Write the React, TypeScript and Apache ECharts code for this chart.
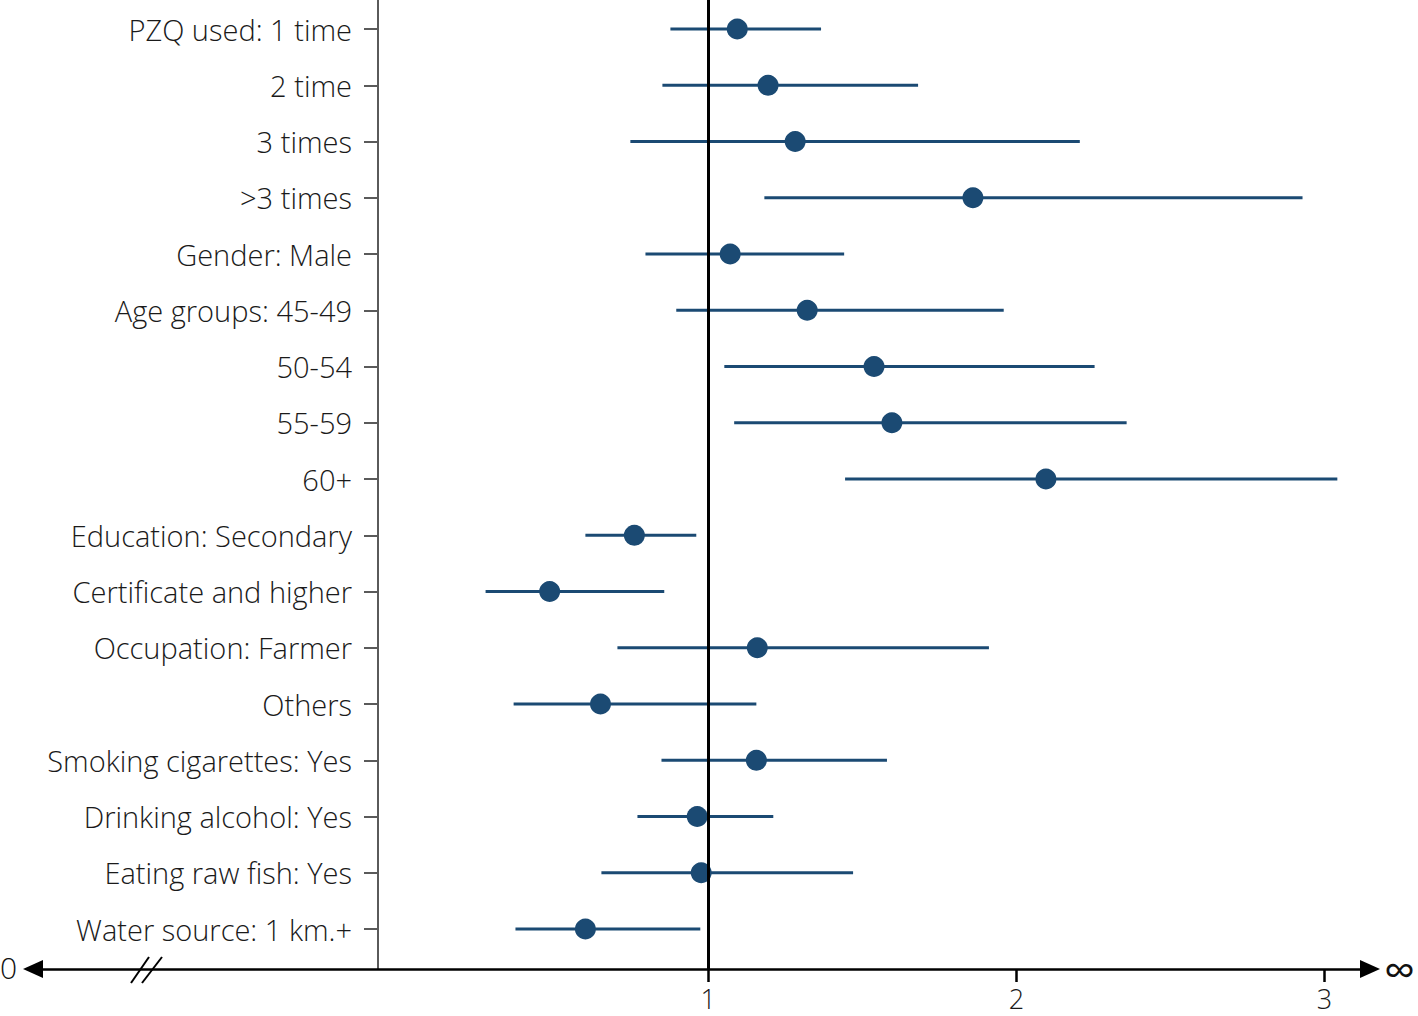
import React, { useEffect, useRef } from "react";
import * as echarts from "echarts";

const categories = [
  "PZQ used: 1 time",
  "2 time",
  "3 times",
  ">3 times",
  "Gender: Male",
  "Age groups: 45-49",
  "50-54",
  "55-59",
  "60+",
  "Education: Secondary",
  "Certificate and higher",
  "Occupation: Farmer",
  "Others",
  "Smoking cigarettes: Yes",
  "Drinking alcohol: Yes",
  "Eating raw fish: Yes",
  "Water source: 1 km.+",
];

const oddsRatio = [1.094, 1.194, 1.282, 1.859, 1.071, 1.321, 1.538, 1.596, 2.096, 0.76, 0.485, 1.159, 0.65, 1.156, 0.964, 0.977, 0.601];
const lowerCI = [0.877, 0.851, 0.747, 1.182, 0.796, 0.896, 1.052, 1.084, 1.444, 0.601, 0.277, 0.705, 0.368, 0.848, 0.77, 0.653, 0.374];
const upperCI = [1.366, 1.681, 2.206, 2.929, 1.441, 1.959, 2.254, 2.358, 3.042, 0.961, 0.857, 1.911, 1.156, 1.58, 1.211, 1.47, 0.974];
const xTickValues = [1, 2, 3];
const referenceValue = 1;

const FONT = "'Open Sans', 'Noto Sans', sans-serif";
const NAVY = "#1b4a73";

export default function App() {
  const ref = useRef<HTMLDivElement>(null);

  useEffect(() => {
    if (!ref.current) return;
    const chart = echarts.init(ref.current, null, { renderer: "svg" });
    const rows = categories.map((_, i) => i);

    const option = {
      animation: false,
      backgroundColor: "#ffffff",
      grid: { left: 33, right: 46, top: 0, bottom: 47, containLabel: false },
      xAxis: {
        type: "value",
        min: -1.1922,
        max: 3.1481,
        splitLine: { show: false },
        axisLine: {
          show: true,
          onZero: false,
          symbol: ["triangle", "triangle"],
          symbolSize: [18, 20],
          lineStyle: { color: "#000", width: 2.5 },
        },
        axisTick: { show: true, customValues: xTickValues, length: 13, lineStyle: { color: "#000", width: 2.5 } },
        axisLabel: {
          show: true,
          customValues: xTickValues,
          margin: 16,
          fontFamily: FONT,
          fontSize: 27,
          color: "#1a1a1a",
          fontWeight: 300,
        },
        name: "∞",
        nameLocation: "end",
        nameGap: 14,
        nameTextStyle: { fontFamily: FONT, fontSize: 44, color: "#111", verticalAlign: "middle", padding: [0, 0, 6, 0] },
      },
      yAxis: {
        type: "value",
        inverse: true,
        min: -0.5156,
        max: 16.711,
        position: "left",
        offset: -345,
        splitLine: { show: false },
        axisLine: { show: true, onZero: false, lineStyle: { color: "#5a5a5a", width: 2 } },
        axisTick: { show: true, customValues: rows, length: 14, lineStyle: { color: "#5a5a5a", width: 2 } },
        axisLabel: {
          show: true,
          customValues: rows,
          margin: 26,
          fontFamily: FONT,
          fontSize: 29,
          color: "#1a1a1a",
          fontWeight: 300,
          formatter: (v: number) => categories[Math.round(v)] ?? "",
        },
      },
      graphic: [
        {
          type: "text",
          left: 0,
          top: 952,
          style: { text: "0", font: `300 30px ${FONT}`, fill: "#111" },
        },
        {
          type: "line",
          shape: { x1: 131, y1: 983, x2: 149, y2: 957 },
          style: { stroke: "#000", lineWidth: 2 },
        },
        {
          type: "line",
          shape: { x1: 142, y1: 983, x2: 162, y2: 957 },
          style: { stroke: "#000", lineWidth: 2 },
        },
      ],
      series: [
        {
          type: "custom",
          z: 2,
          data: rows.map((i) => [lowerCI[i], upperCI[i], i]),
          encode: { x: [0, 1], y: 2 },
          renderItem: (_params: any, api: any) => {
            const p1 = api.coord([api.value(0), api.value(2)]);
            const p2 = api.coord([api.value(1), api.value(2)]);
            return {
              type: "line",
              shape: { x1: p1[0], y1: p1[1], x2: p2[0], y2: p2[1] },
              style: { stroke: NAVY, lineWidth: 2.8 },
            };
          },
        },
        {
          type: "scatter",
          z: 3,
          symbol: "circle",
          symbolSize: 21,
          itemStyle: { color: NAVY, opacity: 1 },
          data: rows.map((i) => [oddsRatio[i], i]),
          markLine: {
            silent: true,
            symbol: ["none", "none"],
            label: { show: false },
            z: 5,
            lineStyle: { color: "#000", width: 3, type: "solid" },
            data: [{ xAxis: referenceValue }],
          },
        },
      ],
    };

    chart.setOption(option as any);
    return () => chart.dispose();
  }, []);

  return (
    <div
      ref={ref}
      style={{ position: "fixed", left: 0, top: 0, width: 1418, height: 1016, background: "#fff" }}
    />
  );
}
